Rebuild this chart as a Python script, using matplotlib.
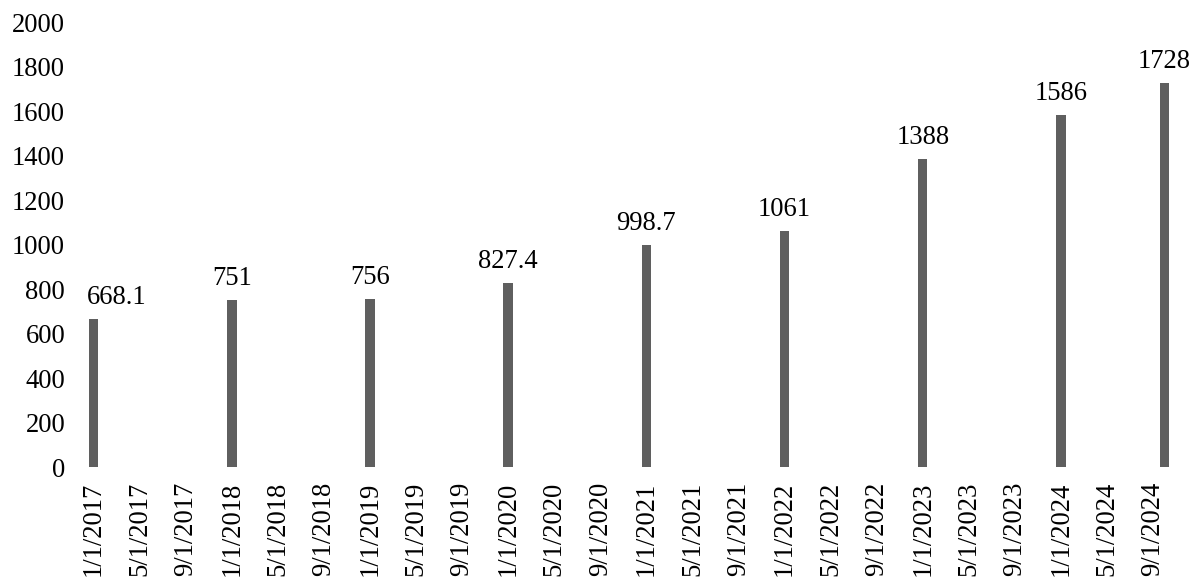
import matplotlib
matplotlib.use("Agg")
import matplotlib.pyplot as plt

# Data: observation dates (month/day/year) and values
dates = ["1/1/2017", "1/1/2018", "1/1/2019", "1/1/2020", "1/1/2021",
         "1/1/2022", "1/1/2023", "1/1/2024", "10/1/2024"]
values = [668.1, 751, 756, 827.4, 998.7, 1061, 1388, 1586, 1728]
value_labels = ["668.1", "751", "756", "827.4", "998.7", "1061", "1388", "1586", "1728"]

start_year = 2017
tick_step_months = 4
last_tick_month = 92          # 9/1/2024
y_ticks = list(range(0, 2001, 200))


def month_index(d):
    m, _, y = (int(p) for p in d.split("/"))
    return (y - start_year) * 12 + (m - 1)


def month_label(i):
    return f"{i % 12 + 1}/1/{start_year + i // 12}"


plt.rcParams["font.family"] = ["Liberation Serif", "DejaVu Serif"]
FS = 19.2

fig = plt.figure(figsize=(12.04, 5.79), dpi=100)
ax = fig.add_axes([0.072, 0.1934, 0.901, 0.7677])

x = [month_index(d) for d in dates]
ax.bar(x, values, width=0.82, color="#5f5f5f", zorder=2)

ax.set_xlim(-0.6, 93.6)
ax.set_ylim(0, 2000)
ax.set_yticks(y_ticks)
ax.set_yticklabels([str(v) for v in y_ticks], fontsize=FS)

ticks = list(range(0, last_tick_month + 1, tick_step_months))
ax.set_xticks(ticks)
ax.set_xticklabels([month_label(t) for t in ticks], rotation=90, fontsize=FS)

ax.tick_params(axis="both", length=0)
ax.tick_params(axis="y", pad=15.5)
ax.tick_params(axis="x", pad=10.5)
for s in ax.spines.values():
    s.set_visible(False)

# Value labels above each bar, kept inside the plot area on the left
fig.canvas.draw()
renderer = fig.canvas.get_renderer()
ax_left = ax.get_window_extent(renderer).x0
for xi, v, lab in zip(x, values, value_labels):
    t = ax.annotate(lab, (xi, v), xytext=(0, 10.8), textcoords="offset points",
                    ha="center", va="baseline", fontsize=FS, annotation_clip=False)
    bb = t.get_window_extent(renderer)
    if bb.x0 < ax_left:
        shift = (ax_left - bb.x0) * 72 / fig.dpi
        t.set_position((shift, 10.8))

fig.savefig("out.png", dpi=100)
